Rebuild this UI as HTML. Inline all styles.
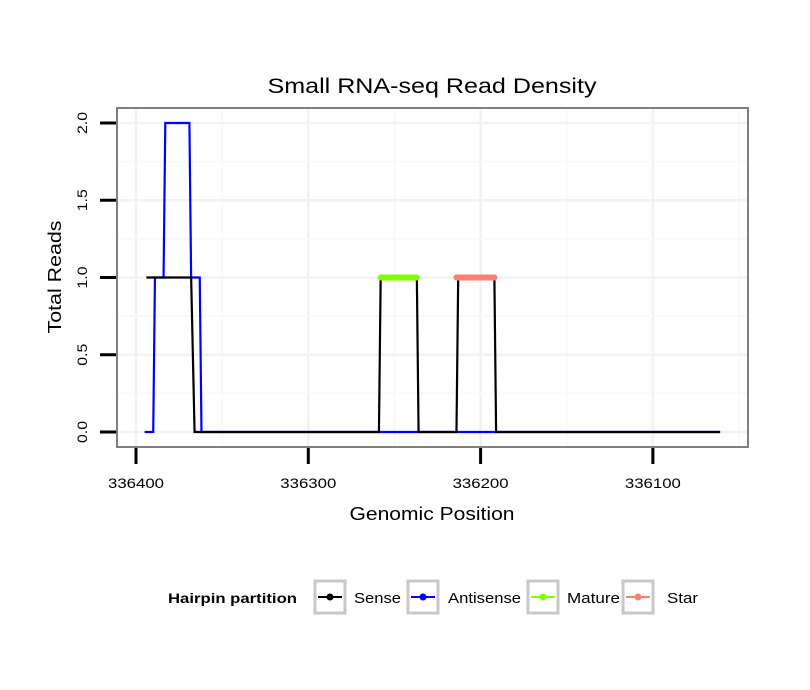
<!DOCTYPE html>
<html><head><meta charset="utf-8"><style>
body{margin:0;background:#fff;}
svg{font-family:"Liberation Sans",sans-serif;display:block}
</style></head><body>
<svg id="chart" width="810" height="690">
<rect width="810" height="690" fill="#fff"/>
<text x="432" y="93" font-size="21" text-anchor="middle" textLength="329" lengthAdjust="spacingAndGlyphs">Small RNA-seq Read Density</text>
<g id="grid"></g>
<g id="series"></g>
<rect x="117" y="108" width="631" height="339" fill="none" stroke="#7f7f7f" stroke-width="2"/>
<g id="axes"></g>
<text x="432" y="520" font-size="18" text-anchor="middle" textLength="165" lengthAdjust="spacingAndGlyphs">Genomic Position</text>
<text transform="translate(61,277) rotate(-90)" font-size="18" text-anchor="middle" textLength="113" lengthAdjust="spacingAndGlyphs">Total Reads</text>
<g>
<text x="168" y="603" font-size="14" font-weight="bold" textLength="129" lengthAdjust="spacingAndGlyphs">Hairpin partition</text>
<g id="legend"></g>
</g>
</svg>
<script>
const xTicks=[336400,336300,336200,336100];
const yTicks=[0,0.5,1,1.5,2];
const yTickLabels=["0.0","0.5","1.0","1.5","2.0"];
const senseX=[336394,336368,336366,336259,336258,336237,336236,336214,336213,336192,336191,336061];
const senseY=[1,1,0,0,1,1,0,0,1,1,0,0];
const antisenseX=[336395,336390,336389,336384,336383,336369,336368,336363,336362,336061];
const antisenseY=[0,0,1,1,2,2,1,1,0,0];
const matureX=[336258,336237];
const matureY=[1,1];
const starX=[336214,336192];
const starY=[1,1];
const legendLabels=["Sense","Antisense","Mature","Star"];
const legendColors=["#000","#0000ff","#7fff00","#fa8072"];

const NS="http://www.w3.org/2000/svg";
function X(v){return 136+(336400-v)*1.723;}
function Y(v){return 432-v*154.5;}
function mk(tag,attrs,parent){const e=document.createElementNS(NS,tag);for(const k in attrs)e.setAttribute(k,attrs[k]);parent.appendChild(e);return e;}
const grid=document.getElementById('grid'),series=document.getElementById('series'),axes=document.getElementById('axes'),legend=document.getElementById('legend');
mk('rect',{x:117,y:108,width:631,height:339,fill:'#fff'},grid);
for(let i=-1;i<xTicks.length+1;i++){
  const v=336400-i*100;
  [v,v-50].forEach((g,j)=>{const x=X(g);if(x>118&&x<747){const l=mk('line',{x1:x,x2:x,y1:108,y2:447,stroke:j?'#f8f8f8':'#f2f2f2','stroke-width':j?1.5:2.5},grid);
  
  }});
}
for(let k=0;k<=8;k++){const v=k*0.25;const y=Y(v);const l=mk('line',{x1:117,x2:748,y1:y,y2:y,stroke:k%2?'#f8f8f8':'#f2f2f2','stroke-width':k%2?1.5:2.5},grid);

}
function path(xs,ys){let d='';xs.forEach((x,i)=>{d+=(i?'L':'M')+X(x)+','+Y(ys[i]);});return d;}
const a=mk('path',{d:path(antisenseX,antisenseY),fill:'none',stroke:'#0000ff','stroke-width':2.2},series);


const s=mk('path',{d:path(senseX,senseY),fill:'none',stroke:'#000','stroke-width':2.2},series);


const m=mk('path',{d:path(matureX,matureY),fill:'none',stroke:'#7fff00','stroke-width':6,'stroke-linecap':'round'},series);


const st=mk('path',{d:path(starX,starY),fill:'none',stroke:'#fa8072','stroke-width':6,'stroke-linecap':'round'},series);


xTicks.forEach(v=>{const x=X(v);const t=mk('line',{x1:x,x2:x,y1:448,y2:464,stroke:'#000','stroke-width':3},axes);


const tx=mk('text',{x:x,y:488,'font-size':14,'text-anchor':'middle',textLength:56,lengthAdjust:'spacingAndGlyphs'},axes);tx.textContent=v;

});
yTicks.forEach((v,i)=>{const y=Y(v);const t=mk('line',{x1:100,x2:116,y1:y,y2:y,stroke:'#000','stroke-width':3},axes);


const tx=mk('text',{transform:`translate(87,${y}) rotate(-90)`,'font-size':14,'text-anchor':'middle',textLength:22,lengthAdjust:'spacingAndGlyphs'},axes);tx.textContent=yTickLabels[i];

});
const lx=[315,408,528,623],tx=[354,448,567,667],tw=[47,73,53,31];
legendLabels.forEach((lab,i)=>{const g=mk('g',{},legend);


mk('rect',{x:lx[i],y:581,width:30,height:32,fill:'#fff',stroke:'#c8c8c8','stroke-width':3},g);
mk('line',{x1:lx[i]+3,x2:lx[i]+27,y1:597,y2:597,stroke:legendColors[i],'stroke-width':2},g);
mk('circle',{cx:lx[i]+15,cy:597,r:3.5,fill:legendColors[i]},g);
const t=mk('text',{x:tx[i],y:603,'font-size':15,textLength:tw[i],lengthAdjust:'spacingAndGlyphs'},g);t.textContent=lab;});
</script>
</body></html>
